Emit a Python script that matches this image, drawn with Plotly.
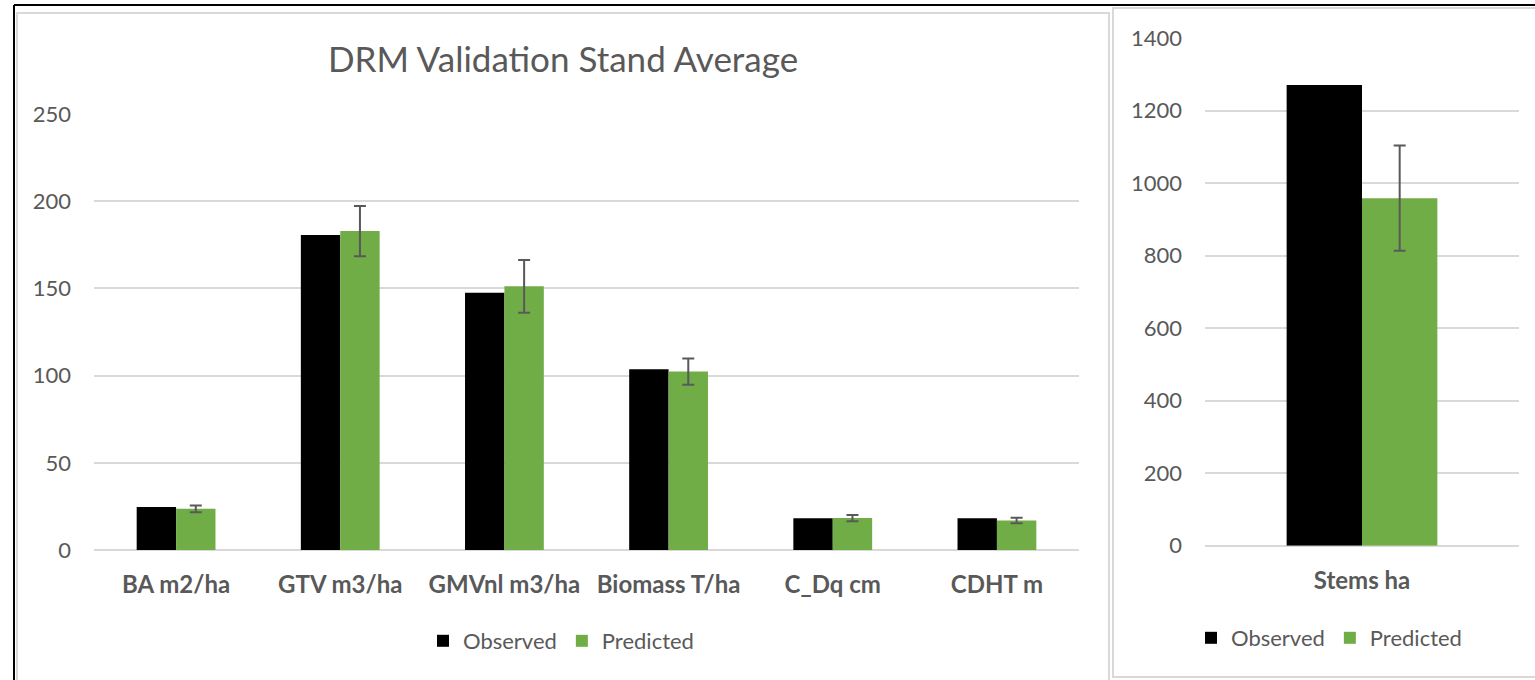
import plotly.graph_objects as go

# ---- data ----
categories = ["BA m2/ha", "GTV m3/ha", "GMVnl m3/ha", "Biomass T/ha", "C_Dq cm", "CDHT m"]
observed = [24.7, 180.6, 147.5, 103.6, 18.2, 18.2]
predicted = [23.6, 182.9, 151.2, 102.3, 18.3, 16.9]
predicted_err = [1.9, 14.4, 15.1, 7.5, 1.8, 1.6]

stems_category = ["Stems ha"]
stems_observed = [1271]
stems_predicted = [959]
stems_err = [145]

title_text = "DRM Validation Stand Average"

# ---- style ----
W, H = 1535, 680
BLACK = "#000000"
GREEN = "#70AD47"
TXT = "#595959"
GRID = "#D9D9D9"
FONT = "Lato"


def px(x):
    return x / W


def py(y):
    return 1 - y / H


fig = go.Figure()

err_style = dict(type="data", visible=True, color=TXT, thickness=2, width=6)

fig.add_trace(go.Bar(x=categories, y=observed, name="Observed", marker=dict(color=BLACK, line_width=0),
                     xaxis="x", yaxis="y", legend="legend"))
fig.add_trace(go.Bar(x=categories, y=predicted, name="Predicted", marker=dict(color=GREEN, line_width=0),
                     error_y=dict(array=predicted_err, **err_style),
                     xaxis="x", yaxis="y", legend="legend"))
fig.add_trace(go.Bar(x=stems_category, y=stems_observed, name="Observed", marker=dict(color=BLACK, line_width=0),
                     xaxis="x2", yaxis="y2", legend="legend2"))
fig.add_trace(go.Bar(x=stems_category, y=stems_predicted, name="Predicted", marker=dict(color=GREEN, line_width=0),
                     error_y=dict(array=stems_err, **err_style),
                     xaxis="x2", yaxis="y2", legend="legend2"))

yaxis_common = dict(showgrid=True, gridcolor=GRID, gridwidth=1.5, zeroline=True, zerolinecolor=GRID,
                    zerolinewidth=1.5, showline=False, ticks="", ticklabelstandoff=22,
                    tickfont=dict(family=FONT, size=22, color=TXT), fixedrange=True)
xaxis_common = dict(showgrid=False, zeroline=False, showline=False, ticks="", ticklabelstandoff=18,
                    tickfont=dict(family=FONT, size=24, color=TXT, weight="bold"), fixedrange=True)

legend_common = dict(orientation="h", xanchor="center", yanchor="middle", bgcolor="rgba(0,0,0,0)",
                     font=dict(family=FONT, size=22, color=TXT), itemclick=False, itemdoubleclick=False)

fig.update_layout(
    width=W, height=H,
    margin=dict(l=0, r=0, t=0, b=0, autoexpand=False),
    paper_bgcolor="white", plot_bgcolor="white",
    barmode="group", bargap=0.52, bargroupgap=0,
    font=dict(family=FONT, color=TXT),
    title=dict(text=title_text, x=px(563), y=py(60), xanchor="center", yanchor="middle",
               xref="paper", yref="paper", font=dict(family=FONT, size=35, color=TXT)),
    xaxis=dict(domain=[px(94), px(1079)], anchor="y", **xaxis_common),
    yaxis=dict(domain=[py(550), py(114)], anchor="x", range=[0, 250], dtick=50, **yaxis_common),
    xaxis2=dict(domain=[px(1205), px(1519)], anchor="y2", **xaxis_common),
    yaxis2=dict(domain=[py(545.7), py(38.3)], anchor="x2", range=[0, 1400], dtick=200, **yaxis_common),
    legend=dict(x=px(561), y=py(641), **legend_common),
    legend2=dict(x=px(1329), y=py(638), **legend_common),
    showlegend=True,
)

# frames: outer black border and gray chart borders
line_gray = dict(color="#D9D9D9", width=2)
fig.add_shape(type="line", xref="paper", yref="paper", x0=px(14), x1=1, y0=py(5), y1=py(5),
              line=dict(color=BLACK, width=2))
fig.add_shape(type="line", xref="paper", yref="paper", x0=px(14), x1=px(14), y0=py(5), y1=0,
              line=dict(color=BLACK, width=2))
# left chart frame
fig.add_shape(type="rect", xref="paper", yref="paper", x0=px(17), x1=px(1109), y0=py(13), y1=py(690),
              line=line_gray, fillcolor="rgba(0,0,0,0)", layer="below")
# right chart frame
fig.add_shape(type="rect", xref="paper", yref="paper", x0=px(1113), x1=px(1545), y0=py(8), y1=py(677),
              line=line_gray, fillcolor="rgba(0,0,0,0)", layer="below")

fig.write_html("out.html", config={"displayModeBar": False},
               post_script="document.body.style.margin='0';document.body.style.overflow='hidden';")
